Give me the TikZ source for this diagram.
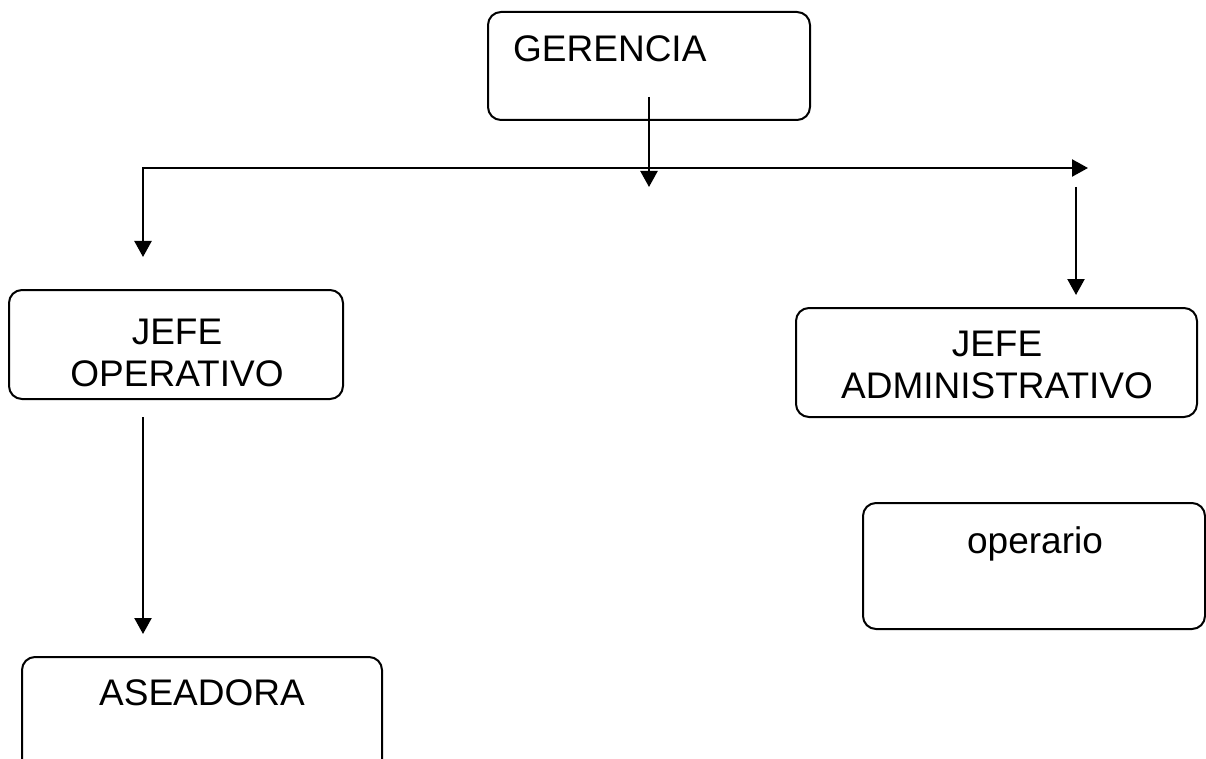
\documentclass[tikz,border=0pt]{standalone}
\usepackage{fontspec}
\setmainfont{Liberation Sans}
\usetikzlibrary{arrows.meta}
\begin{document}
\begin{tikzpicture}[x=1pt,y=-1pt,
  box/.style={draw=black,line width=2pt,rounded corners=13pt,anchor=north west,inner sep=0pt,outer sep=0pt},
  lbl/.style={inner sep=0pt,font=\fontsize{37}{42}\selectfont,align=center},
  tip/.style={Triangle[length=16pt,width=17pt]},
  conn/.style={line width=2.3pt,-{Triangle[length=16pt,width=17pt]}}]
\useasboundingbox (0,0) rectangle (1206,759);
\clip (0,0) rectangle (1206,759);
% boxes
\node[box,minimum width=322pt,minimum height=108pt] (ger) at (488,12) {};
\node[box,minimum width=334pt,minimum height=109pt] (jop) at (9,290) {};
\node[box,minimum width=401pt,minimum height=109pt] (jad) at (796,308) {};
\node[box,minimum width=342pt,minimum height=126pt] (ope) at (863,503) {};
\node[box,minimum width=360pt,minimum height=140pt] (ase) at (22,657) {};
% texts
\node[lbl,anchor=base west] (tger) at (513,62) {GERENCIA};
\node[lbl] (tjop) at (177,353) {JEFE\\OPERATIVO};
\node[lbl] (tjad) at (997,365) {JEFE\\ADMINISTRATIVO};
\node[lbl,anchor=base] (tope) at (1035,553) {operario};
\node[lbl,anchor=base] (tase) at (202,705) {ASEADORA};
% connector points
\coordinate (g1) at (649,97);
\coordinate (g2) at (649,187);
\coordinate (hl) at (143,168);
\coordinate (hr) at (1088,168);
\coordinate (lb) at (143,257);
\coordinate (r1) at (1076,187);
\coordinate (r2) at (1076,295);
\coordinate (o1) at (143,417);
\coordinate (o2) at (143,634);
% connectors
\draw[line width=2.3pt,{Triangle[length=16pt,width=17pt]}-{Triangle[length=16pt,width=17pt]}] (lb) -- (hl) -- (hr);
\draw[conn] (g1) -- (g2);
\draw[conn] (r1) -- (r2);
\draw[conn] (o1) -- (o2);
\end{tikzpicture}
\end{document}
